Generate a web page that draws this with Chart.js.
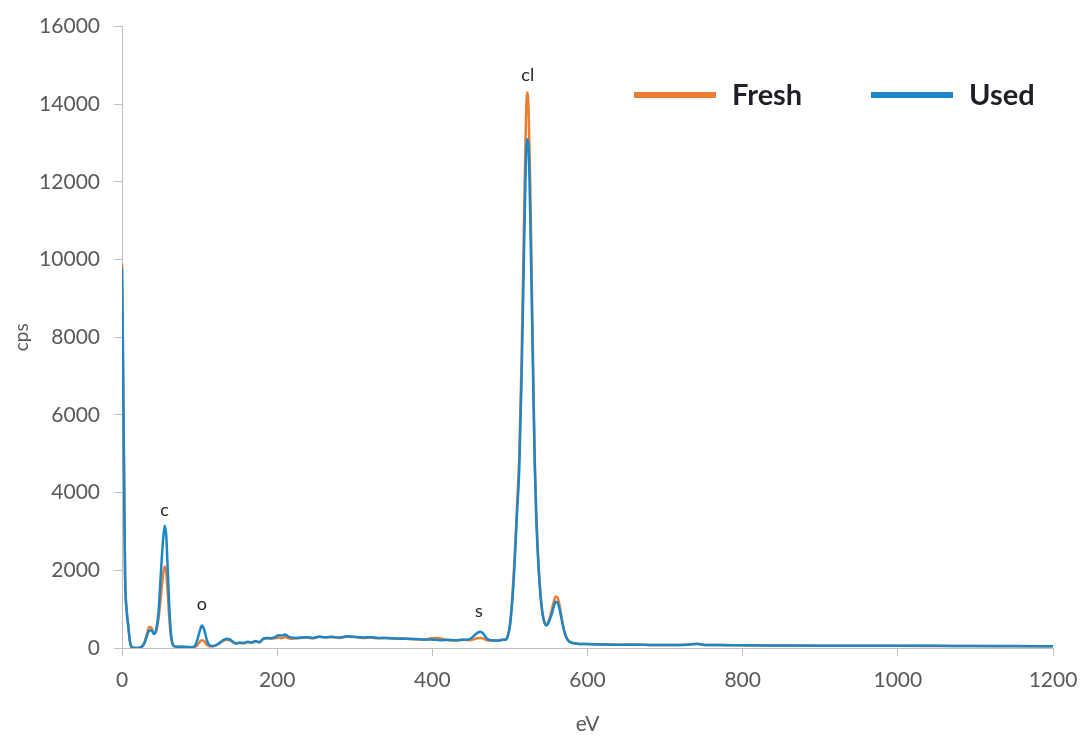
<!DOCTYPE html>
<html>
<head>
<meta charset="utf-8">
<script src="https://cdn.jsdelivr.net/npm/chart.js@4.4.1/dist/chart.umd.min.js"></script>
<style>
html,body{margin:0;padding:0;background:#fff;}
#wrap{width:1083px;height:737px;position:relative;}
</style>
</head>
<body>
<div id="wrap"><canvas id="c" width="1083" height="737"></canvas></div>
<script>
const seriesNames = ['Fresh', 'Used'];
const seriesColors = ['#ED7D31', '#1B86C8'];
const energy = [0,1,2,3,4,6,8,10,12,15,18,22,26,29,32,35,38,41,44,47,50,53,55,57,59,61,63,65,68,72,78,84,90,94,97,100,103,106,109,112,116,120,125,130,135,139,143,147,152,157,162,167,172,177,182,187,192,197,202,206,210,214,218,224,230,238,246,254,262,270,280,290,300,310,320,330,340,350,360,370,380,390,398,405,412,420,430,440,448,454,458,462,466,470,475,480,485,490,494,497,500,503,506,509,512,515,518,520,522,524,526,528,530,532,534,536,539,542,545,547,550,553,556,559,561,564,567,570,574,578,583,590,598,608,620,640,660,680,700,720,735,742,750,770,800,850,900,950,1000,1050,1100,1150,1200];
const fresh = [9900,8100,6000,3800,1900,1000,600,200,40,5,0,5,40,150,350,540,520,380,420,750,1300,1900,2100,1950,1400,750,300,100,40,30,30,25,15,30,70,150,200,170,90,50,40,60,110,180,210,200,150,110,130,120,150,130,170,140,230,250,240,250,270,250,290,250,240,250,260,270,250,290,270,280,260,290,280,260,270,250,260,240,250,230,220,210,250,260,240,200,190,210,200,230,250,260,240,200,190,200,190,210,220,300,600,1300,2300,3600,4900,7400,10800,13000,14300,13900,12200,9700,7200,4900,3500,2500,1500,900,640,600,700,900,1150,1320,1310,1100,750,450,230,150,120,105,100,95,90,85,90,80,75,80,100,110,85,75,70,65,60,55,55,50,50,45,45];
const used = [9800,8000,5900,3700,1850,950,580,190,40,5,0,5,40,130,300,450,460,360,470,900,1900,2800,3150,2900,2000,1050,400,120,40,30,30,25,20,60,200,420,580,470,230,90,50,60,120,200,240,220,160,120,140,130,160,140,180,150,240,260,250,280,330,320,350,300,270,260,270,280,260,290,280,290,270,300,290,270,280,260,260,250,240,240,230,220,220,210,200,210,200,210,230,320,390,420,360,250,200,190,190,210,210,290,560,1200,2150,3400,4600,6900,10000,12000,13100,12900,11300,9100,6800,4700,3300,2400,1450,880,620,580,660,820,1030,1190,1180,1000,700,430,220,150,120,105,100,95,90,85,85,80,75,75,95,100,80,75,70,65,60,60,55,55,50,50,45];
const yTicks = [0,2000,4000,6000,8000,10000,12000,14000,16000];
const xTicks = [0,200,400,600,800,1000,1200];
const peakLabels = ['c','o','s','cl'];
const peakLabelEnergy = [55,103,460,523];
const peakLabelCps = [3560,1130,960,14750];

const toPts = (ys) => energy.map((x, i) => ({x: x, y: ys[i]}));

const annot = {
  id: 'annot',
  afterDatasetsDraw(chart) {
    const {ctx, scales: {x, y}} = chart;
    ctx.save();
    ctx.fillStyle = '#262626';
    ctx.font = '18px Lato';
    ctx.textAlign = 'center';
    ctx.textBaseline = 'middle';
    peakLabels.forEach((t, i) => {
      ctx.fillText(t, x.getPixelForValue(peakLabelEnergy[i]), y.getPixelForValue(peakLabelCps[i]));
    });
    // legend
    const legX = [634, 871];
    const legY = 95;
    ctx.font = 'bold 29px Lato';
    ctx.textAlign = 'left';
    chart.data.datasets.forEach((ds, i) => {
      ctx.strokeStyle = ds.borderColor;
      ctx.lineWidth = 6;
      ctx.beginPath();
      ctx.moveTo(legX[i], legY);
      ctx.lineTo(legX[i] + 82, legY);
      ctx.stroke();
      ctx.fillStyle = '#1F1F2A';
      ctx.fillText(ds.label, legX[i] + 98, legY + 1);
    });
    ctx.restore();
  }
};

new Chart(document.getElementById('c'), {
  type: 'line',
  data: {
    datasets: [
      {label: seriesNames[0], data: toPts(fresh), borderColor: seriesColors[0], borderWidth: 2.5, pointRadius: 0, cubicInterpolationMode: 'monotone', order: 2},
      {label: seriesNames[1], data: toPts(used), borderColor: seriesColors[1], borderWidth: 2.5, pointRadius: 0, cubicInterpolationMode: 'monotone', order: 1}
    ]
  },
  options: {
    responsive: false,
    animation: false,
    devicePixelRatio: 1,
    layout: {padding: {left: 0, right: 30, top: 24, bottom: 0}},
    plugins: {legend: {display: false}, tooltip: {enabled: false}},
    scales: {
      x: {
        type: 'linear', min: 0, max: 1200,
        afterBuildTicks: (s) => { s.ticks = xTicks.map(v => ({value: v})); },
        afterFit: (s) => { s.height = 89; s.paddingLeft = 0; s.paddingRight = 0; },
        grid: {drawOnChartArea: false, drawTicks: true, tickLength: 8, color: '#BFBFBF'},
        border: {display: true, color: '#BFBFBF', width: 1},
        ticks: {color: '#595959', font: {family: 'Lato', size: 21}, padding: 12, maxRotation: 0, callback: (v) => String(v)},
        title: {display: true, text: 'eV', color: '#595959', font: {family: 'Lato', size: 21}, padding: {top: 2, bottom: 0}}
      },
      y: {
        min: 0, max: 16000,
        afterBuildTicks: (s) => { s.ticks = yTicks.map(v => ({value: v})); },
        afterFit: (s) => { s.width = 122; },
        grid: {drawOnChartArea: false, drawTicks: true, tickLength: 8, color: '#BFBFBF'},
        border: {display: true, color: '#BFBFBF', width: 1},
        ticks: {color: '#595959', font: {family: 'Lato', size: 21}, padding: 14, callback: (v) => String(v)},
        title: {display: true, text: 'cps', color: '#595959', font: {family: 'Lato', size: 19}, padding: {top: 10, bottom: 0}}
      }
    }
  },
  plugins: [annot]
});
</script>
</body>
</html>
